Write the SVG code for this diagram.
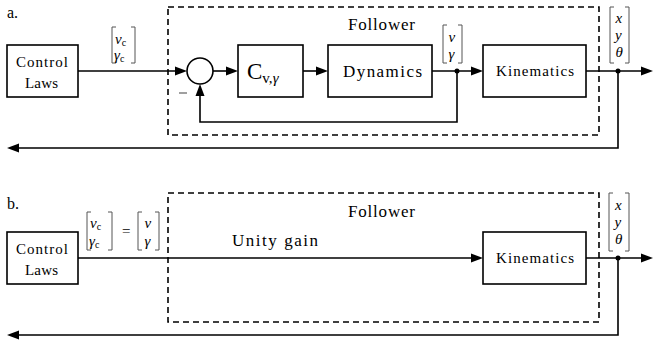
<svg xmlns="http://www.w3.org/2000/svg" width="653" height="342" viewBox="0 0 653 342" font-family="Liberation Serif">

  <!-- ===== a. full follower model ===== -->
  <text x="7" y="18" font-size="16">a.</text>

  <rect id="frame-a" x="168" y="7" width="431" height="128" fill="none" stroke="#000" stroke-width="1.6" stroke-dasharray="6 4"/>
  <text x="348" y="30" font-size="17" textLength="67">Follower</text>

  <g id="connectors-a" fill="none" stroke="#000" stroke-width="1.6">
    <path d="M78,71 H177"/>
    <path d="M213,71 H228"/>
    <path d="M303,71 H318"/>
    <path d="M432,71 H473"/>
    <path d="M586,71 H641"/>
    <path d="M457,71 V122 H200 V94"/>
    <path d="M618,71 V148 H19"/>
    <g fill="#000" stroke="none">
      <polygon points="187,71 175,66.5 175,75.5"/>
      <polygon points="238,71 226,66.5 226,75.5"/>
      <polygon points="328,71 316,66.5 316,75.5"/>
      <polygon points="483,71 471,66.5 471,75.5"/>
      <polygon points="653,71 641,66.5 641,75.5"/>
      <polygon points="200,84 195.5,96 204.5,96"/>
      <polygon points="7,148 19,143.5 19,152.5"/>
      <circle cx="457" cy="71" r="2.5"/>
      <circle cx="618" cy="71" r="2.5"/>
    </g>
  </g>

  <g id="control-a">
    <rect x="7" y="45" width="71" height="52" fill="#fff" stroke="#000" stroke-width="1.6"/>
    <text x="16" y="67" font-size="15" textLength="52">Control</text>
    <text x="25" y="88" font-size="15" textLength="33">Laws</text>
  </g>

  <g id="sum-a">
    <circle cx="200" cy="71" r="13" fill="#fff" stroke="#000" stroke-width="1.6"/>
    <path d="M179,93 H187" stroke="#777" stroke-width="1.4"/>
  </g>

  <g id="controller-a">
    <rect x="238" y="45" width="65" height="52" fill="#fff" stroke="#000" stroke-width="1.6"/>
    <text x="247" y="79" font-size="23">C<tspan font-size="15" dy="4">v,</tspan><tspan font-size="15" font-style="italic">γ</tspan></text>
  </g>

  <g id="dynamics-a">
    <rect x="328" y="45" width="104" height="52" fill="#fff" stroke="#000" stroke-width="1.6"/>
    <text x="343" y="77" font-size="17" textLength="79">Dynamics</text>
  </g>

  <g id="kinematics-a">
    <rect x="483" y="45" width="103" height="52" fill="#fff" stroke="#000" stroke-width="1.6"/>
    <text x="496" y="76" font-size="15" textLength="78">Kinematics</text>
  </g>

  <g id="labels-a" font-size="15" font-style="italic">
    <path d="M116,27 H112 V63 H116 M131,27 H135 V63 H131" fill="none" stroke="#555" stroke-width="1"/>
    <text x="115" y="44">v<tspan font-size="10" font-style="normal" dy="2">c</tspan></text>
    <text x="114" y="60">γ<tspan font-size="10" font-style="normal" dy="2">c</tspan></text>

    <path d="M447,25 H443 V63 H447 M458,25 H462 V63 H458" fill="none" stroke="#555" stroke-width="1"/>
    <text x="448.5" y="42">v</text>
    <text x="448.5" y="59">γ</text>

    <path d="M614,7 H610 V63 H614 M625,7 H629 V63 H625" fill="none" stroke="#555" stroke-width="1"/>
    <text x="615.5" y="23">x</text>
    <text x="615" y="40">y</text>
    <text x="615.5" y="57">θ</text>
  </g>

  <!-- ===== b. unity-gain follower model ===== -->
  <text x="7" y="209" font-size="16">b.</text>

  <rect id="frame-b" x="168" y="193" width="431" height="129" fill="none" stroke="#000" stroke-width="1.6" stroke-dasharray="6 4"/>
  <text x="348" y="217" font-size="17" textLength="67">Follower</text>
  <text x="232" y="246" font-size="17" textLength="86">Unity gain</text>

  <g id="connectors-b" fill="none" stroke="#000" stroke-width="1.6">
    <path d="M78,258 H473"/>
    <path d="M586,258 H641"/>
    <path d="M618,258 V335 H19"/>
    <g fill="#000" stroke="none">
      <polygon points="483,258 471,253.5 471,262.5"/>
      <polygon points="653,258 641,253.5 641,262.5"/>
      <polygon points="7,335 19,330.5 19,339.5"/>
      <circle cx="618" cy="258" r="2.5"/>
    </g>
  </g>

  <g id="control-b">
    <rect x="7" y="232" width="71" height="52" fill="#fff" stroke="#000" stroke-width="1.6"/>
    <text x="16" y="254" font-size="15" textLength="52">Control</text>
    <text x="25" y="275" font-size="15" textLength="33">Laws</text>
  </g>

  <g id="kinematics-b">
    <rect x="483" y="232" width="103" height="52" fill="#fff" stroke="#000" stroke-width="1.6"/>
    <text x="496" y="263" font-size="15" textLength="78">Kinematics</text>
  </g>

  <g id="labels-b" font-size="15" font-style="italic">
    <path d="M91,212 H87 V250 H91 M108,212 H112 V250 H108" fill="none" stroke="#555" stroke-width="1"/>
    <text x="90" y="228">v<tspan font-size="10" font-style="normal" dy="2">c</tspan></text>
    <text x="89" y="246">γ<tspan font-size="10" font-style="normal" dy="2">c</tspan></text>
    <text x="122" y="236" font-style="normal">=</text>
    <path d="M142,212 H138 V250 H142 M155,212 H159 V250 H155" fill="none" stroke="#555" stroke-width="1"/>
    <text x="144.5" y="228">v</text>
    <text x="144.5" y="246">γ</text>

    <path d="M613,193 H609 V251 H613 M625,193 H629 V251 H625" fill="none" stroke="#555" stroke-width="1"/>
    <text x="615" y="210">x</text>
    <text x="614.5" y="227">y</text>
    <text x="615" y="244">θ</text>
  </g>
</svg>
